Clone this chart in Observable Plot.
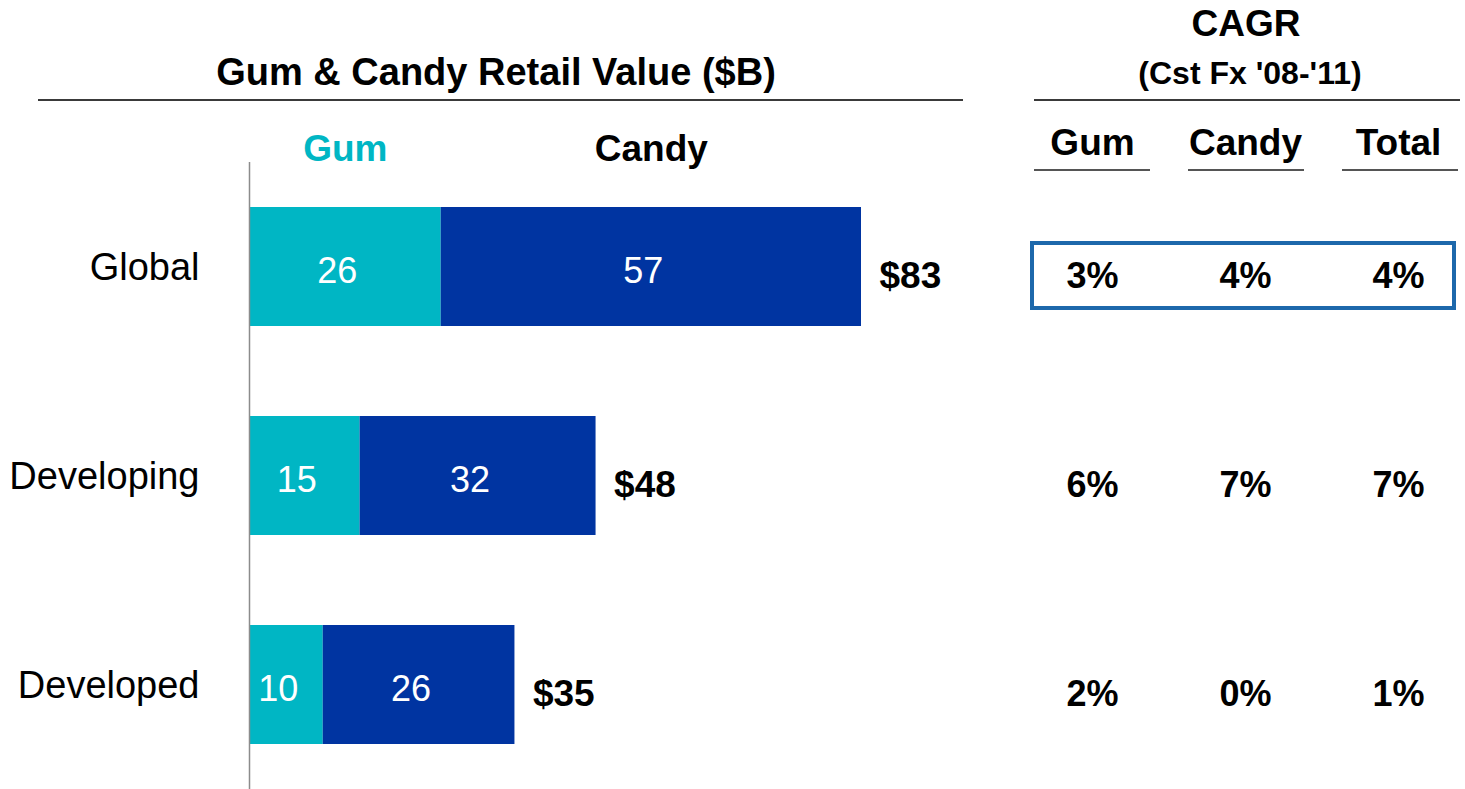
<!DOCTYPE html>
<html><head><meta charset="utf-8">
<script src="https://cdn.jsdelivr.net/npm/d3@7"></script>
<script src="https://cdn.jsdelivr.net/npm/@observablehq/plot@0.6"></script>
<style>
body{margin:0;background:#fff;font-family:"Liberation Sans",Arial,sans-serif;}
#wrap{position:relative;width:1465px;height:789px;overflow:hidden;background:#fff;}
#wrap svg{position:absolute;top:0;overflow:visible;}
.t{position:absolute;font-weight:bold;color:#000;white-space:nowrap;transform:translate(-50%,-50%);line-height:1;}
.hr{position:absolute;height:2px;background:#3a3a3a;}
.box{position:absolute;box-sizing:border-box;border:4px solid #1d68ab;}
</style></head><body><div id="wrap"></div>
<script>
// ---- data ----
const regions = ["Global", "Developing", "Developed"];
const segments = ["Gum", "Candy"];
const gumValues = [26, 15, 10];
const candyValues = [57, 32, 26];
const totalLabels = ["$83", "$48", "$35"];
const cagrColumns = ["Gum", "Candy", "Total"];
const cagrGum = ["3%", "6%", "2%"];
const cagrCandy = ["4%", "7%", "0%"];
const cagrTotal = ["4%", "7%", "1%"];
const titleText = "Gum & Candy Retail Value ($B)";
const cagrTitle = "CAGR";
const cagrSubtitle = "(Cst Fx '08-'11)";

const segColors = ["#00b6c4", "#0034a1"];
const font = '"Liberation Sans", Arial, sans-serif';

const rows = regions.flatMap((r, i) => [
  {region: r, segment: "Gum", value: gumValues[i]},
  {region: r, segment: "Candy", value: candyValues[i]}
]);
const totals = regions.map((r, i) => ({region: r, sum: gumValues[i] + candyValues[i], label: totalLabels[i]}));
const cagrRows = regions.flatMap((r, i) => [
  {region: r, col: "Gum", v: cagrGum[i]},
  {region: r, col: "Candy", v: cagrCandy[i]},
  {region: r, col: "Total", v: cagrTotal[i]}
]);
const gumMid = gumValues[0] / 2;
const candyMid = gumValues[0] + candyValues[0] / 2;

const wrap = document.getElementById("wrap");
const yScale = {domain: regions, range: [162, 789], paddingInner: 0.43, paddingOuter: 0.215, align: 0.5, axis: null, label: null};

const main = Plot.plot({
  width: 1465, height: 789,
  marginTop: 162, marginBottom: 0, marginLeft: 249, marginRight: 604,
  style: {fontFamily: font, color: "#000", background: "transparent"},
  x: {domain: [0, 83], axis: null},
  y: yScale,
  color: {domain: segments, range: segColors},
  marks: [
    Plot.barX(rows, Plot.stackX({x: "value", y: "region", fill: "segment", order: null})),
    Plot.text(rows, Plot.stackX({x: "value", y: "region", z: "segment", order: null, text: d => d.value, fill: "white", fontSize: 36, dx: -8, dy: 4})),
    Plot.text(totals, {x: "sum", y: "region", text: "label", textAnchor: "start", dx: 18, dy: 9, fontSize: 37, fontWeight: "bold", fill: "#000"}),
    Plot.ruleX([0], {stroke: "#8c8c8c", strokeWidth: 1.5}),
    Plot.axisY({tickSize: 0, tickPadding: 50, fontSize: 38, dy: 1, fill: "#000", label: null}),
    Plot.text(["Gum"], {x: () => gumMid, frameAnchor: "top", lineAnchor: "middle", dy: -13, text: d => d, fill: segColors[0], fontSize: 37, fontWeight: "bold"}),
    Plot.text(["Candy"], {x: () => candyMid, frameAnchor: "top", lineAnchor: "middle", dy: -13, text: d => d, fill: "#000", fontSize: 37, fontWeight: "bold"})
  ]
});
main.style.left = "0px";
wrap.appendChild(main);

const table = Plot.plot({
  width: 445, height: 789,
  marginTop: 162, marginBottom: 0, marginLeft: 0, marginRight: 0,
  style: {fontFamily: font, color: "#000", background: "transparent"},
  x: {domain: cagrColumns, type: "point", range: [72, 378], padding: 0, axis: null},
  y: yScale,
  marks: [
    Plot.text(cagrRows, {x: "col", y: "region", text: "v", fontSize: 36, fontWeight: "bold", dy: 9, fill: "#000"}),
    Plot.text(cagrColumns, {x: d => d, frameAnchor: "top", lineAnchor: "middle", dy: -19, text: d => d, fontSize: 37, fontWeight: "bold", fill: "#000"})
  ]
});
table.style.left = "1020px";
wrap.appendChild(table);

function addDiv(cls, css, text) {
  const d = document.createElement("div");
  d.className = cls;
  Object.assign(d.style, css);
  if (text) d.textContent = text;
  wrap.appendChild(d);
}
addDiv("t", {left: "496px", top: "72px", fontSize: "38px"}, titleText);
addDiv("t", {left: "1246px", top: "23px", fontSize: "37px"}, cagrTitle);
addDiv("t", {left: "1250px", top: "73px", fontSize: "32px"}, cagrSubtitle);
addDiv("hr", {left: "38px", top: "99px", width: "925px"});
addDiv("hr", {left: "1034px", top: "99px", width: "426px"});
addDiv("hr", {left: "1034px", top: "169px", width: "116px", background: "#555"});
addDiv("hr", {left: "1188px", top: "169px", width: "116px", background: "#555"});
addDiv("hr", {left: "1342px", top: "169px", width: "116px", background: "#555"});
addDiv("box", {left: "1030px", top: "241px", width: "426px", height: "69px"});
</script></body></html>
